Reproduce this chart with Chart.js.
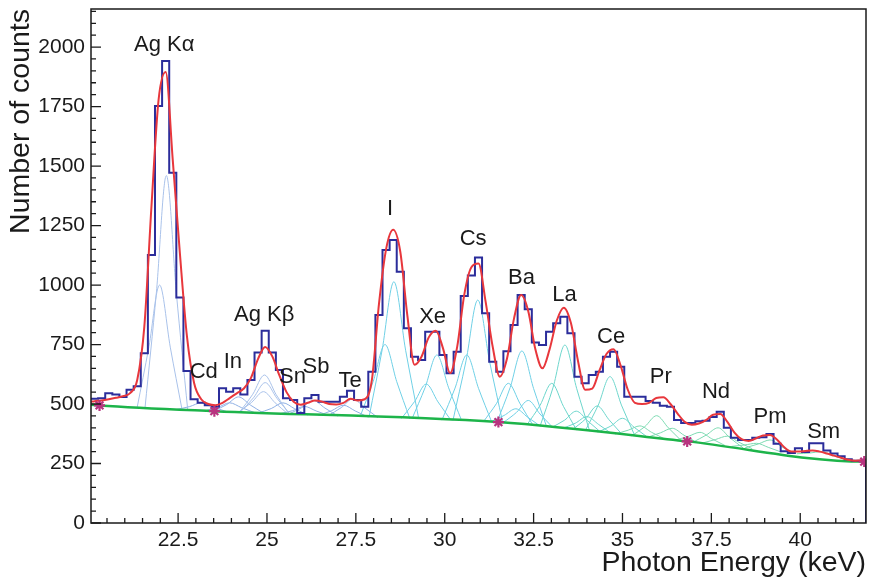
<!DOCTYPE html>
<html>
<head>
<meta charset="utf-8">
<script src="https://cdn.jsdelivr.net/npm/chart.js@4.4.1/dist/chart.umd.min.js"></script>
<style>
  html, body { margin: 0; padding: 0; background: #fff; }
  #wrap { width: 883px; height: 580px; position: relative; }
</style>
</head>
<body>
<div id="wrap"><canvas id="chart"></canvas></div>
<script>
// Histogram: 0.2 keV bins starting at 20.05 keV
const binStart = 20.05;
const binWidth = 0.2;
const counts = [
  522, 524, 545, 540, 530, 560, 575, 713, 1126, 1752,
  1942, 1472, 948, 639, 520, 505, 495, 489, 566, 552,
  566, 540, 601, 716, 808, 716, 643, 524, 517, 462,
  524, 538, 510, 510, 510, 531, 556, 517, 489, 636,
  874, 1147, 1189, 1056, 818, 699, 685, 804, 804, 706,
  629, 720, 954, 1040, 1116, 881, 678, 636, 722, 832,
  958, 898, 758, 748, 804, 839, 867, 797, 615, 587,
  622, 636, 699, 720, 657, 531, 531, 531, 513, 505,
  493, 489, 433, 420, 420, 428, 430, 445, 468, 400,
  358, 349, 349, 358, 360, 374, 333, 302, 294, 314,
  298, 335, 335, 305, 292, 280, 268, 262, 262
];

// total fit, read at the bin centres
const fitCurve = [
  512, 515, 520, 526, 533, 546, 601, 825, 1329, 1777,
  1895, 1525, 1134, 783, 588, 520, 500, 495, 505, 525,
  545, 565, 610, 690, 740, 700, 620, 550, 510, 497,
  505, 515, 510, 500, 498, 505, 522, 515, 520, 600,
  920, 1150, 1232, 1140, 870, 665, 700, 780, 808, 735,
  630, 740, 960, 1075, 1090, 930, 740, 615, 690, 860,
  958, 890, 730, 650, 730, 850, 905, 840, 680, 560,
  565, 640, 710, 730, 660, 560, 505, 500, 505, 525,
  528, 500, 460, 425, 413, 418, 432, 455, 458, 425,
  380, 352, 345, 355, 368, 370, 350, 318, 300, 300,
  303, 305, 300, 292, 283, 274, 266, 262, 264
];
const fitEnds = [[20.05, 510], [41.85, 266]];

// background spline and its knots (stars)
const bgKnots = [[20.29, 494], [23.52, 470], [31.51, 424], [36.82, 343], [41.8, 258]];
const bgLine = [[20.05, 497], [20.29, 494], [23.52, 470], [31.51, 424], [36.82, 343], [41.8, 258], [41.85, 258]];

// single peak components
const agComps = [
  [[21.57, 485], [21.89, 970], [22.17, 1460], [22.45, 968], [22.77, 476]],
  [[21.35, 487], [21.68, 741], [21.98, 1000], [22.28, 739], [22.61, 477]],
  [[24.23, 466], [24.6, 541], [24.93, 622], [25.26, 539], [25.63, 457]],
  [[24.25, 466], [24.62, 526], [24.95, 590], [25.28, 524], [25.65, 457]],
  [[24.2, 466], [24.57, 507], [24.9, 552], [25.23, 505], [25.6, 457]]
];
const cdTeComps = [
  [[22.45, 477], [22.82, 489], [23.15, 505], [23.48, 487], [23.85, 469]],
  [[23.5, 470], [23.87, 498], [24.2, 530], [24.53, 496], [24.9, 462]],
  [[23.25, 471], [23.62, 486], [23.95, 505], [24.28, 485], [24.65, 464]],
  [[24.75, 462], [25.12, 481], [25.45, 505], [25.78, 480], [26.15, 454]],
  [[25.6, 457], [25.97, 484], [26.3, 515], [26.63, 483], [27.0, 449]],
  [[25.35, 459], [25.72, 472], [26.05, 490], [26.38, 471], [26.75, 451]],
  [[26.72, 451], [27.09, 485], [27.42, 522], [27.75, 484], [28.12, 443]],
  [[26.45, 452], [26.82, 472], [27.15, 495], [27.48, 471], [27.85, 445]]
];
const iBaComps = [
  [[27.87, 444], [28.24, 728], [28.57, 1014], [28.9, 726], [29.27, 437]],
  [[27.62, 447], [27.99, 596], [28.32, 750], [28.65, 594], [29.02, 438]],
  [[29.08, 438], [29.45, 570], [29.78, 706], [30.11, 568], [30.48, 429]],
  [[28.78, 439], [29.15, 510], [29.48, 584], [29.81, 509], [30.18, 431]],
  [[30.23, 430], [30.6, 682], [30.93, 937], [31.26, 680], [31.63, 423]],
  [[29.92, 432], [30.29, 567], [30.62, 706], [30.95, 566], [31.32, 425]],
  [[31.47, 424], [31.84, 569], [32.17, 723], [32.5, 565], [32.87, 403]],
  [[31.09, 426], [31.46, 503], [31.79, 587], [32.12, 501], [32.49, 409]],
  [[31.65, 422], [32.02, 465], [32.35, 515], [32.68, 458], [33.05, 400]],
  [[31.3, 426], [31.67, 452], [32.0, 480], [32.33, 445], [32.7, 406]]
];
const laCeComps = [
  [[32.68, 406], [33.05, 571], [33.38, 748], [33.71, 566], [34.08, 385]],
  [[32.31, 412], [32.68, 494], [33.01, 587], [33.34, 490], [33.71, 390]],
  [[33.0, 401], [33.37, 432], [33.7, 470], [34.03, 428], [34.4, 380]],
  [[33.95, 387], [34.32, 496], [34.65, 615], [34.98, 492], [35.35, 366]],
  [[33.59, 392], [33.96, 437], [34.29, 492], [34.62, 434], [34.99, 372]],
  [[34.3, 382], [34.67, 407], [35.0, 440], [35.33, 402], [35.7, 361]],
  [[33.3, 397], [33.67, 419], [34.0, 447], [34.33, 414], [34.7, 375]]
];
const prSmComps = [
  [[35.26, 366], [35.63, 405], [35.96, 451], [36.29, 400], [36.66, 345]],
  [[34.79, 374], [35.16, 390], [35.49, 408], [35.82, 381], [36.19, 353]],
  [[35.7, 360], [36.07, 379], [36.4, 398], [36.73, 369], [37.1, 338]],
  [[36.99, 340], [37.36, 370], [37.69, 400], [38.02, 358], [38.39, 316]],
  [[36.48, 348], [36.85, 364], [37.18, 381], [37.51, 354], [37.88, 326]],
  [[37.25, 336], [37.62, 351], [37.95, 365], [38.28, 339], [38.65, 312]],
  [[38.45, 316], [38.82, 332], [39.15, 349], [39.48, 320], [39.85, 292]],
  [[38.07, 322], [38.44, 328], [38.77, 335], [39.1, 318], [39.47, 298]],
  [[39.9, 291], [40.27, 294], [40.6, 300], [40.93, 283], [41.3, 268]]
];

// element labels
const peakNames = ['Ag K\u03b1', 'Cd', 'In', 'Ag K\u03b2', 'Sn', 'Sb', 'Te', 'I', 'Xe', 'Cs', 'Ba', 'La', 'Ce', 'Pr', 'Nd', 'Pm', 'Sm'];
const peakLabelE = [22.11, 23.22, 24.04, 24.92, 25.72, 26.38, 27.34, 28.46, 29.66, 30.80, 32.16, 33.37, 34.68, 36.08, 37.63, 39.15, 40.66];
const peakLabelCounts = [2019, 645, 683, 884, 620, 664, 607, 1326, 872, 1200, 1040, 968, 788, 624, 557, 452, 389];

// axes
const xTickValues = [22.5, 25, 27.5, 30, 32.5, 35, 37.5, 40];
const xTickLabels = ['22.5', '25', '27.5', '30', '32.5', '35', '37.5', '40'];
const yTickValues = [0, 250, 500, 750, 1000, 1250, 1500, 1750, 2000];
const yTickLabels = ['0', '250', '500', '750', '1000', '1250', '1500', '1750', '2000'];

const FONT = '"Liberation Sans", Arial, Helvetica, sans-serif';
const xMin = 20.05, xMax = 41.85, yMin = 0, yMax = 2160;

function toXY(pairs) {
  return pairs.map(p => ({ x: p[0], y: p[1] }));
}

// step outline of the histogram, dropping to zero after the last bin
function histogramSteps() {
  const pts = counts.map((c, i) => ({ x: binStart + i * binWidth, y: c }));
  const end = binStart + counts.length * binWidth;
  pts.push({ x: end, y: counts[counts.length - 1] });
  pts.push({ x: end, y: 0 });
  return pts;
}

function fitPoints() {
  const pts = [{ x: fitEnds[0][0], y: fitEnds[0][1] }];
  fitCurve.forEach((v, i) => pts.push({ x: binStart + (i + 0.5) * binWidth, y: v }));
  pts.push({ x: fitEnds[1][0], y: fitEnds[1][1] });
  return pts;
}

function compSets(list, color) {
  return list.map(c => ({
    type: 'line',
    data: toXY(c),
    borderColor: color,
    borderWidth: 1,
    pointRadius: 0,
    fill: false,
    cubicInterpolationMode: 'monotone',
    order: 5,
  }));
}

// inside ticks, frame and element labels
const decorations = {
  id: 'decorations',
  afterDatasetsDraw(chart) {
    const { ctx, chartArea: a, scales } = chart;
    const xs = scales.x, ys = scales.y;
    ctx.save();
    ctx.strokeStyle = '#1a1a1a';
    ctx.lineWidth = 1.3;
    ctx.beginPath();
    for (let v = 0; v <= yMax; v += 50) {
      const py = ys.getPixelForValue(v);
      const len = v % 250 === 0 ? 10 : 5;
      ctx.moveTo(a.left, py);
      ctx.lineTo(a.left + len, py);
    }
    for (let v = 20.5; v <= xMax; v += 0.5) {
      const px = xs.getPixelForValue(v);
      const len = Math.abs(v / 2.5 - Math.round(v / 2.5)) < 1e-6 ? 10 : 5;
      ctx.moveTo(px, a.bottom);
      ctx.lineTo(px, a.bottom - len);
    }
    ctx.stroke();
    ctx.lineWidth = 1.5;
    ctx.strokeRect(a.left, a.top, a.right - a.left, a.bottom - a.top);

    ctx.fillStyle = '#1a1a1a';
    ctx.font = '22px ' + FONT;
    ctx.textAlign = 'center';
    ctx.textBaseline = 'alphabetic';
    peakNames.forEach((name, i) => {
      const px = xs.getPixelForValue(peakLabelE[i]);
      const py = ys.getPixelForValue(peakLabelCounts[i]);
      ctx.fillText(name, px, py + 8);
    });
    ctx.restore();
  }
};

const datasets = [
  {
    type: 'line',
    data: toXY(bgKnots),
    showLine: false,
    pointStyle: 'star',
    pointRadius: 5.5,
    pointBorderWidth: 2.2,
    pointBorderColor: '#b8337f',
    pointBackgroundColor: '#b8337f',
    order: 0,
  },
  {
    type: 'line',
    data: fitPoints(),
    borderColor: '#e8373c',
    borderWidth: 2,
    pointRadius: 0,
    fill: false,
    cubicInterpolationMode: 'monotone',
    order: 1,
  },
  {
    type: 'line',
    data: histogramSteps(),
    stepped: 'before',
    borderColor: '#2b2d9b',
    borderWidth: 2,
    pointRadius: 0,
    fill: false,
    order: 2,
  },
  {
    type: 'line',
    data: toXY(bgLine),
    borderColor: '#1db44a',
    borderWidth: 2.5,
    pointRadius: 0,
    fill: false,
    cubicInterpolationMode: 'monotone',
    order: 3,
  },
  ...compSets(agComps, '#a9c2ea'),
  ...compSets(cdTeComps, '#8fb0e4'),
  ...compSets(iBaComps, '#6fd0e6'),
  ...compSets(laCeComps, '#6dd6cc'),
  ...compSets(prSmComps, '#7ddab2'),
];

new Chart(document.getElementById('chart'), {
  type: 'line',
  data: { datasets },
  plugins: [decorations],
  options: {
    responsive: true,
    maintainAspectRatio: false,
    animation: false,
    layout: { padding: { left: 0, right: 17, top: 9, bottom: 0 } },
    plugins: {
      legend: { display: false },
      tooltip: { enabled: false },
    },
    scales: {
      x: {
        type: 'linear',
        min: xMin,
        max: xMax,
        afterBuildTicks: s => { s.ticks = xTickValues.map(v => ({ value: v })); },
        afterFit: s => { s.height = 57; s.paddingLeft = 0; s.paddingRight = 0; },
        grid: { display: false, drawTicks: false },
        border: { display: false },
        ticks: {
          callback: v => xTickLabels[xTickValues.indexOf(v)] ?? '',
          font: { family: FONT, size: 21 },
          color: '#1a1a1a',
          padding: 5,
          maxRotation: 0,
          autoSkip: false,
        },
        title: {
          display: true,
          text: 'Photon Energy (keV)',
          align: 'end',
          color: '#1a1a1a',
          font: { family: FONT, size: 28.5 },
          padding: { top: 0, bottom: 0 },
        },
      },
      y: {
        type: 'linear',
        min: yMin,
        max: yMax,
        afterBuildTicks: s => { s.ticks = yTickValues.map(v => ({ value: v })); },
        afterFit: s => { s.width = 91; s.paddingTop = 0; s.paddingBottom = 0; },
        grid: { display: false, drawTicks: false },
        border: { display: false },
        ticks: {
          callback: v => yTickLabels[yTickValues.indexOf(v)] ?? '',
          font: { family: FONT, size: 21 },
          color: '#1a1a1a',
          padding: 6,
          autoSkip: false,
        },
        title: {
          display: true,
          text: 'Number of counts',
          align: 'end',
          color: '#1a1a1a',
          font: { family: FONT, size: 28.5 },
          padding: { top: 4, bottom: 0 },
        },
      },
    },
  },
});
</script>
</body>
</html>
